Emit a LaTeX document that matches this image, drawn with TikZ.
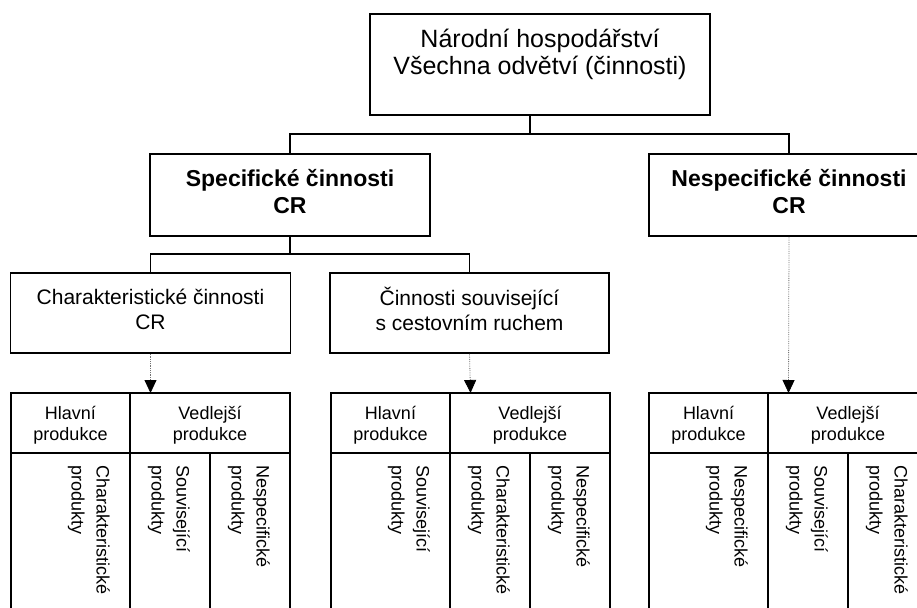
\documentclass[tikz,border=0pt]{standalone}
\usepackage{fontspec}
\setmainfont{Liberation Sans}
\usetikzlibrary{arrows.meta}
\tikzstyle{activity}=[
        draw, line width=1.6pt, inner sep=0pt
]
\tikzstyle{tree}=[
        line width=1.6pt
]
\tikzstyle{flow}=[
        densely dotted, line width=0.8pt, draw=black!55,
        -{Triangle[length=13pt,width=12pt,color=black]}
]
\tikzstyle{tabline}=[
        line width=1.5pt
]
\tikzstyle{bigtext}=[align=center, inner sep=0pt, font=\fontsize{25}{27}\selectfont]
\tikzstyle{boldtext}=[align=center, inner sep=0pt, font=\fontsize{23}{27}\selectfont\bfseries]
\tikzstyle{midtext}=[align=center, inner sep=0pt, font=\fontsize{21}{25}\selectfont]
\tikzstyle{headtext}=[align=center, inner sep=0pt, font=\fontsize{18}{21}\selectfont]
\tikzstyle{verttext}=[rotate=-90, anchor=north west, align=left, inner sep=0pt, font=\fontsize{18}{25}\selectfont]

\begin{document}
\begin{tikzpicture}[x=1pt, y=-1pt]
                        \useasboundingbox (0,0) rectangle (917,607);

                        % boxes
                        \node[activity, minimum width=340, minimum height=101] (hosp) at (540,64.5) {};
                        \node[activity, minimum width=280, minimum height=82] (spec) at (290,195) {};
                        \node[activity, minimum width=280, minimum height=82] (nespec) at (789,195) {};
                        \node[activity, minimum width=280, minimum height=80] (charc) at (150.5,313) {};
                        \node[activity, minimum width=279, minimum height=80] (souv) at (469.5,313) {};

                        \node[bigtext] (hospt) at (540,54) {Národní hospodářství\\Všechna odvětví (činnosti)};
                        \node[boldtext] (spect) at (290,192) {Specifické činnosti\\CR};
                        \node[boldtext] (nespect) at (789,192) {Nespecifické činnosti\\CR};
                        \node[midtext] (charct) at (150.5,309) {Charakteristické činnosti\\CR};
                        \node[midtext] (souvt) at (469.5,309) {Činnosti související\\s cestovním ruchem};

                        % tree
                        \coordinate (j1) at (530,134);
                        \coordinate (j2) at (290,254);
                        \draw[tree] (hosp.south -| j1) -- (j1);
                        \draw[tree] (spec.north) |- (j1) -| (nespec.north);
                        \draw[tree] (spec.south) -- (j2);
                        \draw[tree] (charc.north) |- (j2) -| (souv.north);

                        % tables
                        \foreach \x/\ta/\tb/\tc [count=\k] in {11/Charakteristické/Související/Nespecifické,
                                331/Související/Charakteristické/Nespecifické,
                                649/Nespecifické/Související/Charakteristické} {
                            \coordinate (top\k) at (\x+139.5,393);
                            \draw[tabline] (\x,612) -- (\x,393) -- (\x+279,393) -- (\x+279,612);
                            \draw[tabline] (\x,453) -- (\x+279,453);
                            \draw[tabline] (\x+119,393) -- (\x+119,612);
                            \draw[tabline] (\x+199,453) -- (\x+199,612);
                            \node[headtext] (hl\k) at (\x+59.5,425) {Hlavní\\produkce};
                            \node[headtext] (vd\k) at (\x+199,425) {Vedlejší\\produkce};
                            \node[verttext] (pa\k) at (\x+99,465) {\ta\\produkty};
                            \node[verttext] (pb\k) at (\x+179,465) {\tb\\produkty};
                            \node[verttext] (pc\k) at (\x+259,465) {\tc\\produkty};
                        }

                        \draw[flow] (charc.south) -- (top1);
                        \draw[flow] (souv.south) -- (top2);
                        \draw[flow] (nespec.south) -- (top3);
\end{tikzpicture}
\end{document}
